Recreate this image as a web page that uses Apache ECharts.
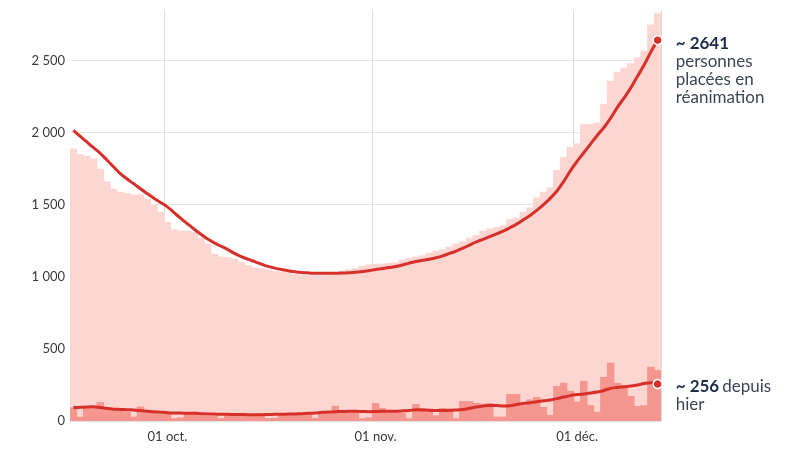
<!DOCTYPE html>
<html>
<head>
<meta charset="utf-8">
<script src="https://cdn.jsdelivr.net/npm/echarts@6/dist/echarts.min.js"></script>
<style>
html,body{margin:0;padding:0;background:#fff;}
#chart{width:800px;height:451px;}
</style>
</head>
<body>
<div id="chart"></div>
<script>
// Days from 17 Sept to 13 Dec (88 days)
const startDate = [2021, 8, 17];
const dayCount = 88;
const monthLabels = {'10-01': '01 oct.', '11-01': '01 nov.', '12-01': '01 déc.'};
const yTicks = [0, 500, 1000, 1500, 2000, 2500];

// Total patients in intensive care (light bars)
const icuTotal = [
  1890, 1850, 1840, 1820, 1750, 1660, 1610, 1590, 1580, 1570,
  1570, 1540, 1500, 1450, 1380, 1330, 1320, 1320, 1310, 1270,
  1230, 1160, 1140, 1135, 1125, 1100, 1080, 1065, 1060, 1050,
  1040, 1035, 1030, 1020, 1015, 1010, 1010, 1015, 1020, 1025,
  1040, 1050, 1060, 1075, 1085, 1090, 1090, 1095, 1100, 1120,
  1130, 1140, 1150, 1165, 1180, 1190, 1210, 1230, 1245, 1270,
  1290, 1320, 1335, 1345, 1355, 1400, 1410, 1450, 1480, 1550,
  1590, 1620, 1740, 1830, 1900, 1925, 2060, 2060, 2070, 2200,
  2360, 2420, 2450, 2480, 2520, 2570, 2750, 2830
];
// Smoothed total (red line)
const icuTotalAvg = [
  2015, 1975, 1935, 1895, 1856, 1810, 1762, 1715, 1678, 1645,
  1610, 1577, 1545, 1515, 1485, 1445, 1405, 1367, 1330, 1295,
  1262, 1235, 1212, 1188, 1162, 1140, 1122, 1105, 1088, 1072,
  1060, 1050, 1042, 1035, 1030, 1027, 1025, 1024, 1024, 1025,
  1026, 1028, 1031, 1036, 1042, 1050, 1057, 1064, 1072, 1082,
  1095, 1106, 1114, 1122, 1132, 1145, 1162, 1178, 1198, 1220,
  1242, 1260, 1278, 1297, 1316, 1340, 1365, 1395, 1425, 1460,
  1500, 1544, 1595, 1660, 1735, 1800, 1860, 1920, 1980, 2035,
  2100, 2175, 2240, 2310, 2390, 2470, 2560, 2641
];
// Daily new admissions (darker bars)
const admissions = [
  95, 30, 90, 105, 130, 90, 85, 80, 65, 30,
  100, 60, 55, 50, 55, 20, 25, 60, 65, 40,
  35, 38, 20, 45, 40, 42, 38, 40, 35, 20,
  22, 45, 48, 42, 45, 50, 22, 60, 70, 105,
  65, 60, 62, 20, 25, 125, 90, 60, 60, 55,
  20, 118, 90, 85, 40, 90, 85, 20, 138, 138,
  125, 120, 125, 30, 30, 187, 187, 110, 150, 166,
  97, 42, 242, 265, 210, 134, 279, 110, 64, 305,
  404, 265, 249, 173, 104, 110, 376, 353
];
// Smoothed admissions (lower red line)
const admissionsAvg = [
  93, 95, 97, 98, 93, 86, 82, 80, 78, 76,
  72, 68, 64, 61, 58, 56, 55, 54, 53, 51,
  49, 48, 47, 46, 45, 45, 44, 44, 44, 45,
  46, 47, 48, 49, 51, 53, 56, 60, 63, 65,
  66, 67, 67, 66, 65, 66, 67, 68, 68, 70,
  73, 78, 77, 74, 72, 72, 74, 76, 80, 88,
  97, 104, 108, 107, 104, 106, 114, 121, 127, 133,
  140, 146, 155, 166, 176, 183, 188, 194, 201, 212,
  226, 233, 238, 243, 250, 260, 265, 256
];

const categories = [];
for (let i = 0; i < dayCount; i++) {
  const d = new Date(startDate[0], startDate[1], startDate[2] + i);
  categories.push(String(d.getMonth() + 1).padStart(2, '0') + '-' + String(d.getDate()).padStart(2, '0'));
}

function withEndMarker(arr) {
  return arr.map((v, i) => i === arr.length - 1
    ? {value: v, symbol: 'circle', symbolSize: 9,
       itemStyle: {color: '#d7302a', borderColor: '#fff', borderWidth: 1.5}}
    : {value: v, symbol: 'none', symbolSize: 0});
}
function fmtNum(v) {
  return String(v).replace(/\B(?=(\d{3})+(?!\d))/g, ' ');
}

const FONT = 'Lato, "Noto Sans", sans-serif';
const labelRich = {
  b: {fontSize: 17, fontWeight: 'bold', color: '#1c2b48', lineHeight: 18, fontFamily: FONT},
  t: {fontSize: 17, color: '#3d4656', lineHeight: 18, fontFamily: FONT}
};
const chart = echarts.init(document.getElementById('chart'), null, {renderer: 'canvas'});
chart.setOption({
  animation: false,
  textStyle: {fontFamily: FONT},
  grid: {left: 70, right: 139, top: 10, bottom: 30, containLabel: false},
  xAxis: {
    type: 'category',
    data: categories,
    boundaryGap: true,
    axisLine: {show: true, lineStyle: {color: '#e2e2e2'}},
    axisTick: {show: false},
    axisLabel: {
      interval: (i, v) => v in monthLabels,
      formatter: v => monthLabels[v] || '',
      color: '#3a3a3a', fontSize: 13, margin: 9, fontFamily: FONT
    },
    splitLine: {show: true, interval: (i, v) => v in monthLabels, lineStyle: {color: '#dcdcdc', width: 1}}
  },
  yAxis: {
    type: 'value',
    min: 0, max: 2850, interval: 500,
    axisLine: {show: false},
    axisTick: {show: false},
    axisLabel: {
      formatter: v => yTicks.includes(v) ? fmtNum(v) : '',
      color: '#3a3a3a', fontSize: 13, margin: 5, fontFamily: FONT, showMaxLabel: false
    },
    splitLine: {show: true, showMaxLine: false, lineStyle: {color: '#e6e6e6'}}
  },
  series: [
    {
      type: 'bar', data: icuTotal, barWidth: '112%', barGap: '-100%',
      itemStyle: {color: '#fdd6d1'}, silent: true, z: 1
    },
    {
      type: 'bar', data: admissions, barWidth: '112%', barGap: '-100%',
      itemStyle: {color: '#f5978e'}, silent: true, z: 2
    },
    {
      type: 'line', data: withEndMarker(icuTotalAvg), smooth: 0.4, symbol: 'circle', showSymbol: true,
      lineStyle: {color: '#d7302a', width: 3}, z: 5,
      endLabel: {
        show: true, align: 'left', verticalAlign: 'top', distance: 18, offset: [0, -6],
        formatter: p => '{b|~ ' + p.value + '}\n{t|personnes}\n{t|placées en}\n{t|réanimation}',
        rich: labelRich
      }
    },
    {
      type: 'line', data: withEndMarker(admissionsAvg), smooth: 0.4, symbol: 'circle', showSymbol: true,
      lineStyle: {color: '#d7302a', width: 3}, z: 5,
      endLabel: {
        show: true, align: 'left', verticalAlign: 'top', distance: 18, offset: [0, -7],
        formatter: p => '{b|~ ' + p.value + '} {t|depuis}\n{t|hier}',
        rich: labelRich
      }
    }
  ]
});
</script>
</body>
</html>
